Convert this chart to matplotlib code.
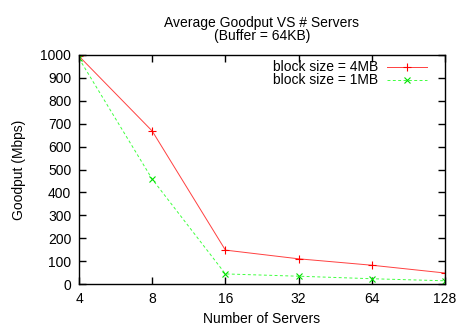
import matplotlib
matplotlib.use("Agg")
import matplotlib.pyplot as plt
from matplotlib.lines import Line2D

plt.rcParams["font.family"] = ["Liberation Sans", "DejaVu Sans"]
plt.rcParams["font.size"] = 10

W, H = 466, 326

# Goodput measurements (Mbps) per server count
servers = [4, 8, 16, 32, 64, 128]
goodput_4mb = [995, 668, 148, 110, 82, 48]
goodput_1mb = [985, 458, 44, 34, 23, 14]
y_ticks = list(range(0, 1001, 100))
series_labels = ["block size = 4MB", "block size = 1MB"]

fig = plt.figure(figsize=(W / 100, H / 100), dpi=100)
ax = fig.add_axes([79 / W, 42 / H, 366 / W, 229 / H])

styles = [
    dict(color="#ff4040", lw=0.7, marker="+", ms=5.5, mew=0.8, mec="#ff0000"),
    dict(color="#40ff40", lw=0.7, ls=(0, (3, 2.5)), marker="x", ms=5, mew=0.8,
         mec="#00e000"),
]

xpos = list(range(len(servers)))
for vals, st in zip([goodput_4mb, goodput_1mb], styles):
    ax.plot(xpos, vals, **st)

ax.set_xlim(0, len(servers) - 1)
ax.set_ylim(0, 1000)
ax.set_xticks(xpos)
ax.set_xticklabels([str(s) for s in servers])
ax.set_yticks(y_ticks)
ax.tick_params(direction="in", top=True, right=True, length=5, width=1,
               labelsize=10)
ax.tick_params(axis="x", pad=6)
ax.tick_params(axis="y", pad=5.5)
for sp in ax.spines.values():
    sp.set_linewidth(1)

ax.set_xlabel("Number of Servers", labelpad=4)
ax.set_ylabel("Goodput (Mbps)", labelpad=10.5)
ax.set_title("Average Goodput VS # Servers\n(Buffer = 64KB)", fontsize=10,
             linespacing=0.85, pad=11)

# gnuplot-style key: right-aligned text with the sample line to its right
for i, (lab, st) in enumerate(zip(series_labels, styles)):
    yk = 1 - (67 + 13 * i) / H
    fig.text(378 / W, yk, lab, ha="right", va="center", fontsize=10)
    fig.add_artist(Line2D([387 / W, 427 / W], [yk, yk], transform=fig.transFigure,
                          **{k: v for k, v in st.items() if k != "marker"}))
    fig.add_artist(Line2D([407 / W], [yk], transform=fig.transFigure,
                          ls="none", marker=st["marker"], ms=st["ms"],
                          mew=st["mew"], mec=st["mec"]))

fig.savefig("out.png", dpi=100)
